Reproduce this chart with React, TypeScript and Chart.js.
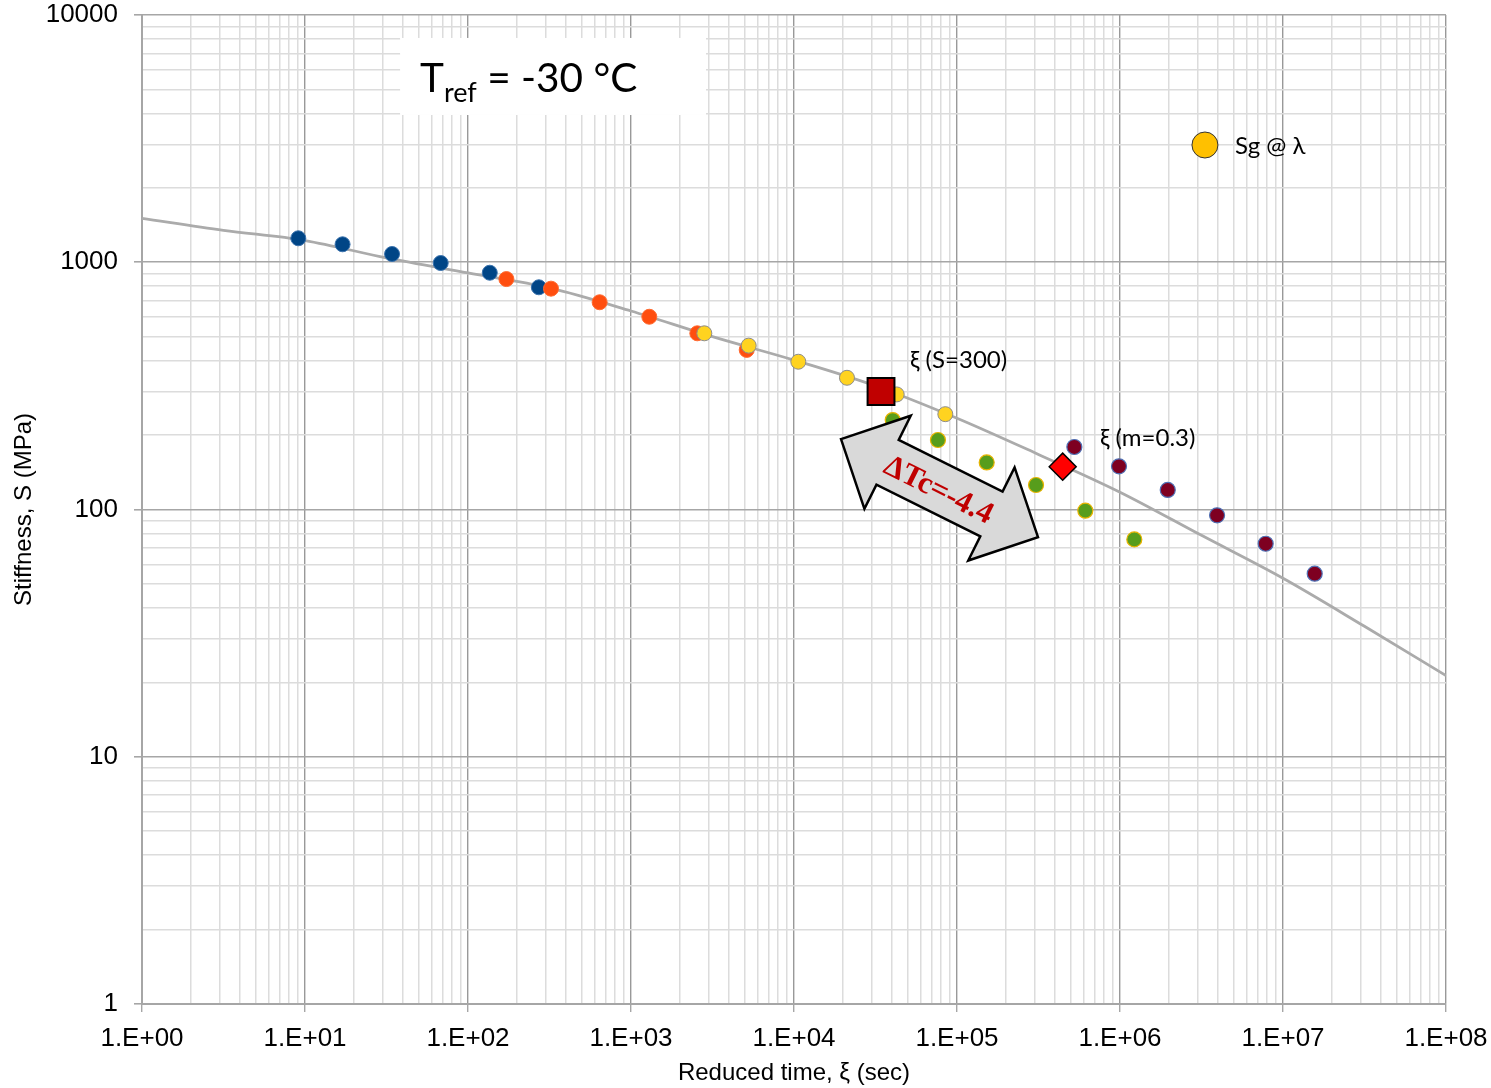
import React, { useEffect, useRef } from 'react';
import { Chart, registerables } from 'chart.js';

Chart.register(...registerables);

// ---- Data ----
const curveTime = [1, 3.16, 10, 31.6, 100, 316, 1000, 3160, 1e4, 3.16e4, 1e5, 3.16e5, 1e6, 3.16e6, 1e7, 3.16e7, 1e8];
const curveStiffness = [1506, 1346, 1224, 1041, 905, 787, 635, 500, 402, 316, 234, 167, 117.5, 78.6, 52.7, 33.7, 21.3];

const blueTime = [9.1, 17.0, 34.2, 68.0, 136, 272];
const blueS = [1250, 1182, 1080, 993, 907, 792];

const orangeTime = [172, 323, 642, 1295, 2552, 5127];
const orangeS = [855, 782, 689, 602, 516, 442];

const yellowTime = [2817, 5273, 10627, 21136, 42660, 84800];
const yellowS = [516, 460, 396, 341, 292, 243];

const greenTime = [40330, 76400, 152100, 305400, 612700, 1224000];
const greenS = [230, 191, 155, 125.6, 98.9, 75.7];

const maroonTime = [524700, 986000, 1963000, 3940000, 7830000, 15650000];
const maroonS = [179, 149.5, 120, 94.7, 72.7, 55.0];

const xiS300Time = [34190];
const xiS300S = [300];
const xiM03Time = [445000];
const xiM03S = [149];

// ---- Axis ticks ----
const xDecades = [1, 10, 100, 1e3, 1e4, 1e5, 1e6, 1e7, 1e8];
const xTickLabels = ['1.E+00', '1.E+01', '1.E+02', '1.E+03', '1.E+04', '1.E+05', '1.E+06', '1.E+07', '1.E+08'];
const yDecades = [1, 10, 100, 1000, 10000];
const yTickLabels = ['1', '10', '100', '1000', '10000'];

// ---- Annotation anchors (data coordinates) ----
const trefBox = { x0: 38.3, x1: 2886, y0: 8075, y1: 3941 };
const trefText = { x: 50.8, y: 4884 };
const labelS300 = { x: 51500, y: 402, text: 'ξ (S=300)' };
const labelM03 = { x: 753700, y: 194.6, text: 'ξ (m=0.3)' };
const legendMarker = { x: 3.32e6, y: 2980 };
const legendText = { x: 5.08e6, y: 2950, text: 'Sg @ λ' };
const arrowCenter = { x: 78100, y: 122 };
const arrowText = 'ΔTc=-4.4';

const pts = (xs: number[], ys: number[]) => xs.map((x, i) => ({ x, y: ys[i] }));

function buildLogTicks(decades: number[]) {
  const out: { value: number; major: boolean }[] = [];
  for (let i = 0; i < decades.length - 1; i++) {
    for (let m = 1; m <= 9; m++) out.push({ value: decades[i] * m, major: m === 1 });
  }
  out.push({ value: decades[decades.length - 1], major: true });
  return out;
}

const annotPlugin = {
  id: 'annot',
  beforeDatasetsDraw(chart: any) {
    const { ctx, scales } = chart;
    const xs = scales.x, ys = scales.y;
    ctx.save();
    const bx0 = xs.getPixelForValue(trefBox.x0), bx1 = xs.getPixelForValue(trefBox.x1);
    const by0 = ys.getPixelForValue(trefBox.y0), by1 = ys.getPixelForValue(trefBox.y1);
    ctx.fillStyle = '#ffffff';
    ctx.fillRect(bx0, by0, bx1 - bx0, by1 - by0);
    let tx = xs.getPixelForValue(trefText.x);
    const ty = ys.getPixelForValue(trefText.y);
    ctx.fillStyle = '#000';
    ctx.textBaseline = 'alphabetic';
    ctx.textAlign = 'left';
    ctx.font = '40.5px Lato';
    ctx.fillText('T', tx, ty);
    tx += ctx.measureText('T').width;
    ctx.font = '27px Lato';
    ctx.fillText('ref', tx, ty + 10);
    tx += ctx.measureText('ref').width;
    ctx.font = '40.5px Lato';
    ctx.fillText(' = -30 °C', tx, ty);
    ctx.restore();
  },
  afterDatasetsDraw(chart: any) {
    const { ctx, scales } = chart;
    const xs = scales.x, ys = scales.y;
    ctx.save();
    ctx.fillStyle = '#000';
    ctx.textBaseline = 'middle';
    ctx.textAlign = 'left';
    ctx.font = '24px Lato';
    ctx.fillText(labelS300.text, xs.getPixelForValue(labelS300.x), ys.getPixelForValue(labelS300.y));
    ctx.fillText(labelM03.text, xs.getPixelForValue(labelM03.x), ys.getPixelForValue(labelM03.y));
    const lx = xs.getPixelForValue(legendMarker.x), ly = ys.getPixelForValue(legendMarker.y);
    ctx.beginPath();
    ctx.arc(lx, ly, 13, 0, Math.PI * 2);
    ctx.fillStyle = '#ffc000';
    ctx.fill();
    ctx.lineWidth = 1;
    ctx.strokeStyle = '#333';
    ctx.stroke();
    ctx.fillStyle = '#000';
    ctx.fillText(legendText.text, xs.getPixelForValue(legendText.x), ys.getPixelForValue(legendText.y));
    const cx = xs.getPixelForValue(arrowCenter.x), cy = ys.getPixelForValue(arrowCenter.y);
    const L = 110, H = 58, W = 25, HW = 52;
    const poly = [[-L, 0], [-H, -HW], [-H, -W], [H, -W], [H, -HW], [L, 0], [H, HW], [H, W], [-H, W], [-H, HW]];
    ctx.translate(cx, cy);
    ctx.rotate(0.4617);
    ctx.beginPath();
    poly.forEach(([px, py], i) => (i ? ctx.lineTo(px, py) : ctx.moveTo(px, py)));
    ctx.closePath();
    ctx.fillStyle = '#d9d9d9';
    ctx.fill();
    ctx.lineWidth = 2.5;
    ctx.lineJoin = 'miter';
    ctx.strokeStyle = '#000';
    ctx.stroke();
    ctx.fillStyle = '#c00000';
    ctx.font = 'bold 31px "Liberation Serif"';
    ctx.textAlign = 'center';
    ctx.textBaseline = 'middle';
    ctx.fillText(arrowText, 0, 3);
    ctx.restore();
  },
};

const isDecade = (v: number, decades: number[]) => decades.some((d) => Math.abs(v - d) < d * 1e-9);

const zeroPad = (scale: any) => {
  scale.paddingLeft = 0;
  scale.paddingRight = 0;
  scale.paddingTop = 0;
  scale.paddingBottom = 0;
};

export default function App() {
  const ref = useRef<HTMLCanvasElement>(null);
  useEffect(() => {
    const chart = new Chart(ref.current as HTMLCanvasElement, {
      type: 'scatter',
      data: {
        datasets: [
          {
            label: 'curve',
            data: pts(curveTime, curveStiffness),
            showLine: true,
            borderColor: '#ababab',
            borderWidth: 2.8,
            pointRadius: 0,
            cubicInterpolationMode: 'monotone',
            order: 10,
          },
          {
            label: 'blue',
            data: pts(blueTime, blueS),
            pointRadius: 7.5,
            backgroundColor: '#004586',
            borderColor: '#3a72ad',
            borderWidth: 1,
            order: 9,
          },
          {
            label: 'orange',
            data: pts(orangeTime, orangeS),
            pointRadius: 7.5,
            backgroundColor: '#ff4e0f',
            borderColor: '#ff6a30',
            borderWidth: 1,
            order: 8,
          },
          {
            label: 'yellow',
            data: pts(yellowTime, yellowS),
            pointRadius: 7.5,
            backgroundColor: '#ffd320',
            borderColor: '#8c8c8c',
            borderWidth: 1,
            order: 7,
          },
          {
            label: 'green',
            data: pts(greenTime, greenS),
            pointRadius: 7.5,
            backgroundColor: '#579d1c',
            borderColor: '#e8b400',
            borderWidth: 1.2,
            order: 6,
          },
          {
            label: 'maroon',
            data: pts(maroonTime, maroonS),
            pointRadius: 7.5,
            backgroundColor: '#7e0021',
            borderColor: '#4f70b5',
            borderWidth: 1.2,
            order: 5,
          },
          {
            label: 'xi S=300',
            data: pts(xiS300Time, xiS300S),
            pointStyle: 'rect',
            pointRadius: 19,
            backgroundColor: '#c00000',
            borderColor: '#000',
            borderWidth: 2,
            order: 2,
          },
          {
            label: 'xi m=0.3',
            data: pts(xiM03Time, xiM03S),
            pointStyle: 'rectRot',
            pointRadius: 13.5,
            backgroundColor: '#ff0000',
            borderColor: '#000',
            borderWidth: 1.5,
            order: 1,
          },
        ] as any,
      },
      options: {
        animation: false,
        responsive: false,
        devicePixelRatio: 1,
        layout: { autoPadding: false, padding: { top: 15, right: 45, left: 0, bottom: 0 } },
        plugins: { legend: { display: false }, tooltip: { enabled: false } },
        scales: {
          x: {
            type: 'logarithmic',
            min: 1,
            max: 1e8,
            position: 'bottom',
            afterBuildTicks: (scale: any) => {
              scale.ticks = buildLogTicks(xDecades);
            },
            afterFit: (scale: any) => {
              scale.height = 84;
              zeroPad(scale);
            },
            ticks: {
              autoSkip: false,
              maxRotation: 0,
              minRotation: 0,
              padding: 11,
              color: '#000',
              font: { family: '"Liberation Sans", Arial, sans-serif', size: 26 },
              callback: (value: any) => {
                const i = xDecades.findIndex((d) => Math.abs(Number(value) - d) < d * 1e-9);
                return i >= 0 ? xTickLabels[i] : '';
              },
            },
            grid: {
              color: (c: any) => (isDecade(c.tick?.value, xDecades) ? '#999999' : '#dcdcdc'),
              lineWidth: (c: any) => (isDecade(c.tick?.value, xDecades) ? 1.4 : 1.5),
              tickColor: (c: any) => (isDecade(c.tick?.value, xDecades) ? '#a6a6a6' : 'rgba(0,0,0,0)'),
              tickLength: 8,
              drawTicks: true,
            },
            border: { display: true, color: '#a6a6a6', width: 2 },
            title: {
              display: true,
              text: 'Reduced time, ξ (sec)',
              color: '#000',
              font: { family: '"Liberation Sans", Arial, sans-serif', size: 24 },
              padding: { top: 0, bottom: 0 },
            },
          },
          y: {
            type: 'logarithmic',
            min: 1,
            max: 10000,
            position: 'left',
            afterBuildTicks: (scale: any) => {
              scale.ticks = buildLogTicks(yDecades);
            },
            afterFit: (scale: any) => {
              scale.width = 142;
              zeroPad(scale);
            },
            ticks: {
              autoSkip: false,
              padding: 16,
              color: '#000',
              font: { family: '"Liberation Sans", Arial, sans-serif', size: 26 },
              callback: (value: any) => {
                const i = yDecades.findIndex((d) => Math.abs(Number(value) - d) < d * 1e-9);
                return i >= 0 ? yTickLabels[i] : '';
              },
            },
            grid: {
              color: (c: any) => (isDecade(c.tick?.value, yDecades) ? '#a6a6a6' : '#dcdcdc'),
              lineWidth: (c: any) => (isDecade(c.tick?.value, yDecades) ? 1.6 : 1.5),
              tickColor: (c: any) => (isDecade(c.tick?.value, yDecades) ? '#a6a6a6' : 'rgba(0,0,0,0)'),
              tickLength: 8,
              drawTicks: true,
            },
            border: { display: true, color: '#a6a6a6', width: 2 },
            title: {
              display: true,
              text: 'Stiffness, S (MPa)',
              color: '#000',
              font: { family: '"Liberation Sans", Arial, sans-serif', size: 24 },
              padding: { top: 9.6, bottom: 0 },
            },
          },
        },
      } as any,
      plugins: [annotPlugin],
    });
    return () => chart.destroy();
  }, []);
  return (
    <div style={{ position: 'absolute', left: 0, top: 0, width: 1491, height: 1088 }}>
      <canvas ref={ref} width={1491} height={1088} style={{ width: 1491, height: 1088, display: 'block' }} />
    </div>
  );
}
